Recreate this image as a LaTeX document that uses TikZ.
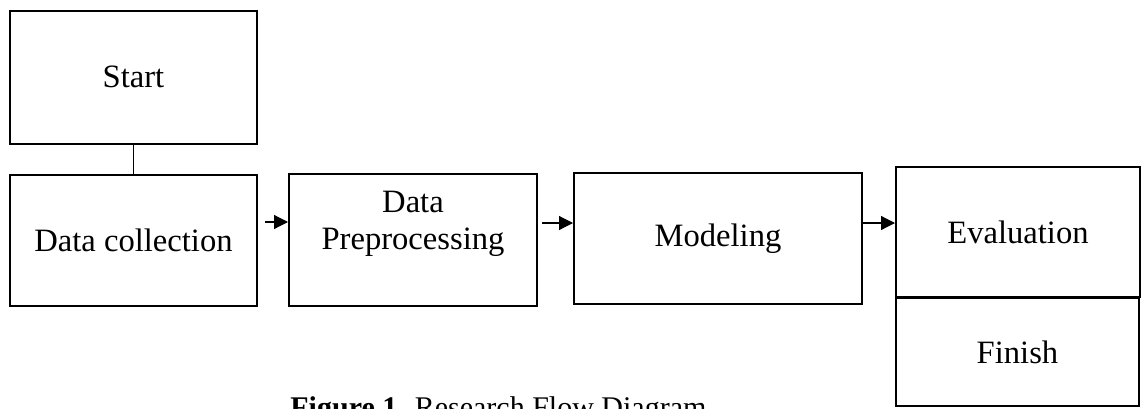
\documentclass[tikz,border=0pt]{standalone}
\usepackage{fontspec}
\setmainfont{Liberation Serif}
\usetikzlibrary{arrows.meta,calc}
\tikzset{
  box/.style={draw, line width=1pt, rectangle, inner sep=0pt, font=\fontsize{16.3pt}{18.5pt}\selectfont, align=center},
  lbl/.style={inner sep=0pt, font=\fontsize{16.3pt}{18.5pt}\selectfont, align=center},
  conn/.style={line width=0.6pt},
  arr/.style={line width=0.6pt, -{Triangle[length=7pt,width=7pt]}},
}
\begin{document}
\begin{tikzpicture}[x=0.5pt,y=-0.5pt]
\useasboundingbox (0,0) rectangle (1142,408);
\node[box, minimum width=123.5pt, minimum height=66.5pt] (start) at (133.5,77) {Start};
\node[box, minimum width=123.5pt, minimum height=65.5pt] (collect) at (133.5,240) {Data collection};
\node[box, minimum width=124pt, minimum height=66pt] (prep) at (413,240) {};
\node[lbl] (preptext) at (413,224) {Data\\Preprocessing};
\node[box, minimum width=144pt, minimum height=65.5pt] (model) at (718,238.5) {Modeling};
\node[box, minimum width=122pt, minimum height=65pt] (eval) at (1018,232) {Evaluation};
\node[box, minimum width=121.5pt, minimum height=54pt] (finish) at (1017.5,352) {Finish};
\node[anchor=base west, inner sep=0pt, font=\fontsize{15pt}{18pt}\selectfont] (caption) at (290,417) {\textbf{Figure 1.} Research Flow Diagram};
\draw[conn] (start.south) -- (collect.north);
\draw[arr] ($(collect.east)+(7,-18)$) -- ($(prep.west)+(0,-18)$);
\draw[arr] ($(prep.east)+(4,-17)$) -- ($(model.west)+(0,-15.5)$);
\draw[arr] ($(model.east)+(0,-15.5)$) -- (eval.west |- {$(model.east)+(0,-15.5)$});
\end{tikzpicture}
\end{document}
